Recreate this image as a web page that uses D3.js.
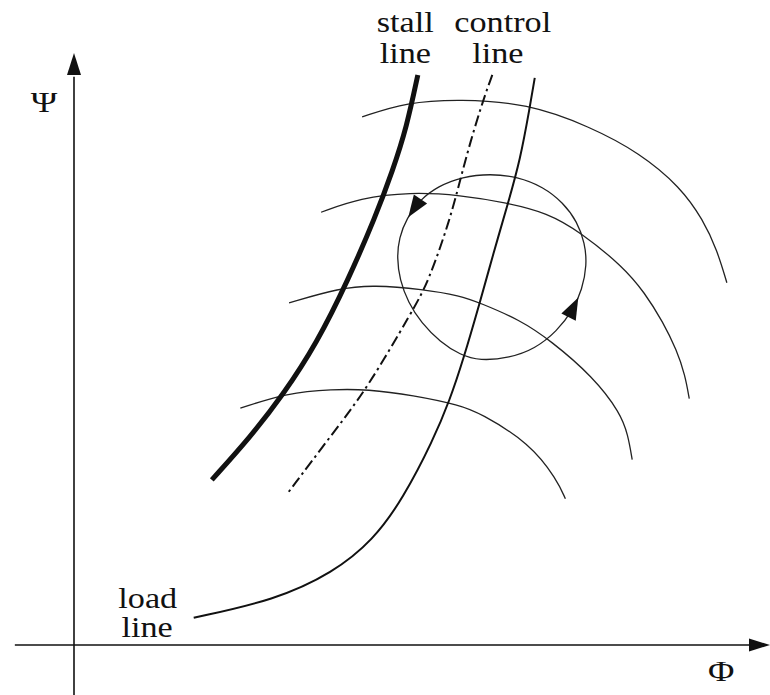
<!DOCTYPE html>
<html>
<head>
<meta charset="utf-8">
<script src="https://cdn.jsdelivr.net/npm/d3@7"></script>
<style>
  html, body { margin: 0; padding: 0; background: #fff; }
  svg { display: block; }
</style>
</head>
<body>
<svg id="map" width="770" height="695"></svg>
<script>
// Compressor map: flow coefficient Φ vs. pressure rise Ψ (arbitrary units 0–100)

// Surge (stall) line
const stallLine = [
  [49.4, 96.3], [47.8, 87.5], [45.8, 80.2], [43.3, 72.3], [39.4, 61.7],
  [34.9, 51.0], [30.0, 42.2], [25.3, 35.1], [19.8, 27.9]
];

// Surge control line
const controlLine = [
  [60.1, 96.3], [58.8, 92.1], [56.9, 84.8], [55.5, 78.6], [54.0, 71.8],
  [50.9, 61.3], [48.7, 56.6], [42.0, 43.1], [37.2, 35.8], [30.8, 25.8]
];

// Load (throttle) line
const loadLine = [
  [66.2, 95.8], [65.5, 90.9], [64.1, 81.9], [62.4, 74.8], [60.2, 65.9],
  [58.3, 57.8], [55.9, 48.1], [54.0, 41.4], [51.6, 34.6], [47.3, 24.8],
  [43.0, 17.7], [37.2, 12.2], [28.9, 7.6], [17.2, 4.6]
];

// Constant-speed characteristics
const speedLines = [
  [[41.4, 89.2], [47.8, 91.7], [55.5, 92.2], [65.1, 91.5], [74.1, 87.6],
   [81.3, 83.1], [87.1, 77.4], [90.4, 71.8], [92.4, 66.7], [93.8, 61.2]],
  [[35.5, 73.1], [41.1, 75.5], [48.3, 76.5], [55.5, 76.0], [62.2, 74.7],
   [68.0, 73.0], [72.7, 69.8], [78.9, 63.9], [82.0, 59.5], [84.6, 54.6],
   [86.6, 49.8], [87.8, 45.6], [88.4, 41.6]],
  [[30.9, 57.8], [38.2, 60.3], [43.0, 60.8], [50.1, 60.1], [55.5, 59.0],
   [58.3, 57.8], [64.1, 54.9], [68.4, 51.5], [74.6, 45.3], [78.5, 39.2],
   [79.6, 35.5], [80.2, 31.3]],
  [[23.9, 40.0], [30.6, 42.6], [37.2, 43.2], [42.1, 43.2], [48.7, 42.2],
   [55.5, 40.5], [58.3, 39.2], [65.5, 34.1], [69.4, 27.9], [70.6, 24.7]]
];

// Surge cycle, listed in the direction of travel
const surgeCycle = [
  [58.3, 48.0], [62.6, 48.5], [66.2, 50.0], [69.4, 53.0], [71.7, 56.6],
  [73.0, 60.0], [73.7, 64.2], [73.4, 67.9], [72.3, 71.5], [70.3, 74.7],
  [67.4, 77.4], [63.7, 79.1], [59.8, 79.6], [55.8, 79.1], [52.3, 77.5],
  [49.7, 75.2], [47.8, 72.1], [46.7, 68.8], [46.4, 65.4], [46.8, 61.7],
  [48.0, 57.9], [49.9, 54.4], [52.6, 51.2], [55.5, 49.0]
];
// Where the direction arrows sit on the cycle
const cycleArrows = [[48.7, 71.8], [72.7, 58.6]];

const axisLabels = { x: "Φ", y: "Ψ" };
const lineLabels = {
  stall: ["stall", "line"],
  control: ["control", "line"],
  load: ["load", "line"]
};

const svg = d3.select("#map");
const x = d3.scaleLinear().domain([0, 100]).range([74, 770]);
const y = d3.scaleLinear().domain([0, 100]).range([645, 53]);

const line = d3.line().x(d => x(d[0])).y(d => y(d[1])).curve(d3.curveBasis);
const closed = d3.line().x(d => x(d[0])).y(d => y(d[1])).curve(d3.curveBasisClosed);

// Axes with arrowheads
const ink = "#111";
svg.append("line").attr("x1", x(-8.5)).attr("x2", x(97)).attr("y1", y(0)).attr("y2", y(0))
  .attr("stroke", ink).attr("stroke-width", 1.6);
svg.append("line").attr("x1", x(0)).attr("x2", x(0)).attr("y1", y(-8.5)).attr("y2", y(96))
  .attr("stroke", ink).attr("stroke-width", 1.6);
svg.append("path")
  .attr("d", `M${x(100)},${y(0)} L${x(100) - 21},${y(0) - 6.5} L${x(100) - 21},${y(0) + 6.5} Z`)
  .attr("fill", ink);
svg.append("path")
  .attr("d", `M${x(0)},${y(100)} L${x(0) - 7},${y(100) + 22} L${x(0) + 7},${y(100) + 22} Z`)
  .attr("fill", ink);

// Speed lines
svg.append("g").selectAll("path").data(speedLines).join("path")
  .attr("d", line).attr("fill", "none").attr("stroke", "#222").attr("stroke-width", 1.3);

// Surge cycle
const cycle = svg.append("path").attr("d", closed(surgeCycle))
  .attr("fill", "none").attr("stroke", "#222").attr("stroke-width", 1.3);

// Operating lines
svg.append("path").attr("d", line(loadLine))
  .attr("fill", "none").attr("stroke", ink).attr("stroke-width", 2);
svg.append("path").attr("d", line(controlLine))
  .attr("fill", "none").attr("stroke", ink).attr("stroke-width", 2)
  .attr("stroke-dasharray", "11,4,2.5,4");
svg.append("path").attr("d", line(stallLine))
  .attr("fill", "none").attr("stroke", ink).attr("stroke-width", 5);

// Direction arrows on the surge cycle
const node = cycle.node();
const total = node.getTotalLength();
cycleArrows.forEach(([px, py]) => {
  const tx = x(px), ty = y(py);
  let best = 0, bestD = Infinity;
  for (let s = 0; s <= total; s += 0.5) {
    const p = node.getPointAtLength(s);
    const d = (p.x - tx) ** 2 + (p.y - ty) ** 2;
    if (d < bestD) { bestD = d; best = s; }
  }
  const tip = node.getPointAtLength(best);
  const back = node.getPointAtLength((best - 12 + total) % total);
  const ang = Math.atan2(tip.y - back.y, tip.x - back.x) * 180 / Math.PI;
  svg.append("path")
    .attr("d", "M0,0 L-22,-8 L-22,8 Z")
    .attr("transform", `translate(${tip.x},${tip.y}) rotate(${ang})`)
    .attr("fill", ink);
});

// Labels
function label(txt, cx, cy, size) {
  svg.append("text")
    .attr("transform", `translate(${cx},${cy}) scale(1.2,1)`)
    .attr("text-anchor", "middle")
    .attr("font-family", "'Liberation Serif', Tinos, 'Times New Roman', serif")
    .attr("font-size", size)
    .attr("fill", ink)
    .text(txt);
}
label(lineLabels.stall[0], x(47.6), y(103.5), 28.5);
label(lineLabels.stall[1], x(47.6), y(98.3), 28.5);
label(lineLabels.control[0], x(61.6), y(103.5), 28.5);
label(lineLabels.control[1], x(60.9), y(98.3), 28.5);
label(lineLabels.load[0], x(10.6), y(6.25), 28.5);
label(lineLabels.load[1], x(10.5), y(1.35), 28.5);
label(axisLabels.y, x(-4.3), y(90.0), 30);
label(axisLabels.x, x(93.0), y(-6.1), 30);
</script>
</body>
</html>
